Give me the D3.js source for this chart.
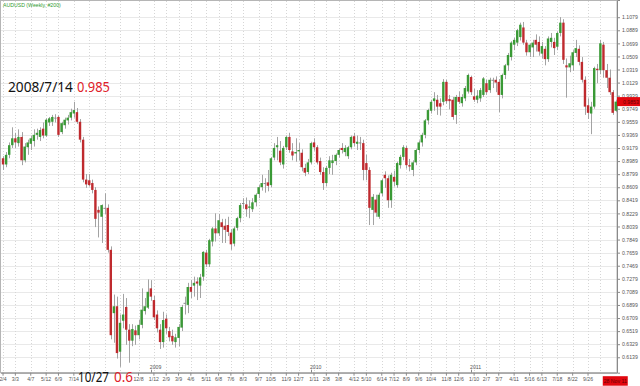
<!DOCTYPE html>
<html>
<head>
<meta charset="utf-8">
<script src="https://d3js.org/d3.v7.min.js"></script>
<style>
body { margin: 0; background: #fff; }
svg { display: block; font-family: "Liberation Sans", Arial, sans-serif; }
</style>
</head>
<body>
<svg id="chart" width="640" height="386"></svg>
<script>
// weekly AUDUSD candles, 2008-02-04 .. 2011-11-28
var opens = [
0.903,0.894,0.908,0.922,0.932,0.925,0.934,0.900,0.919,0.924,
0.928,0.937,0.934,0.946,0.936,0.955,0.956,0.962,0.963,0.941,
0.951,0.958,0.962,0.968,0.970,0.956,0.930,0.872,0.871,0.867,
0.857,0.828,0.818,0.831,0.831,0.770,0.678,0.688,0.622,0.667,
0.687,0.654,0.638,0.653,0.646,0.661,0.681,0.686,0.714,0.697,
0.676,0.654,0.636,0.670,0.652,0.645,0.636,0.642,0.657,0.692,
0.690,0.716,0.718,0.724,0.718,0.731,0.766,0.749,0.782,0.801,
0.794,0.810,0.805,0.806,0.795,0.779,0.802,0.816,0.837,0.836,
0.831,0.829,0.839,0.851,0.861,0.867,0.868,0.864,0.904,0.919,
0.914,0.894,0.919,0.934,0.913,0.910,0.913,0.911,0.889,0.883,
0.897,0.926,0.919,0.899,0.883,0.867,0.889,0.896,0.899,0.908,
0.918,0.912,0.906,0.919,0.935,0.924,0.926,0.925,0.896,0.886,
0.828,0.843,0.818,0.852,0.879,0.874,0.842,0.876,0.864,0.893,
0.905,0.918,0.893,0.886,0.897,0.915,0.926,0.937,0.958,0.972,
0.986,0.988,0.983,0.985,1.014,0.989,0.988,0.966,0.992,0.983,
0.990,1.000,1.021,0.993,0.988,0.990,0.995,1.012,1.002,1.016,
1.017,1.014,0.995,1.024,1.038,1.050,1.068,1.071,1.079,1.093,
1.071,1.057,1.064,1.075,1.072,1.055,1.062,1.047,1.072,1.072,
1.065,1.085,1.100,1.038,1.035,1.038,1.056,1.062,1.043,1.017,
0.980,0.968,0.978,1.033,1.031,1.068,1.031,1.020,0.999,0.972
];
var highs = [
0.906,0.912,0.926,0.948,0.940,0.945,0.941,0.925,0.930,0.936,
0.945,0.946,0.948,0.955,0.961,0.963,0.966,0.967,0.965,0.956,
0.962,0.966,0.975,0.985,0.976,0.960,0.934,0.880,0.880,0.872,
0.861,0.833,0.836,0.852,0.836,0.775,0.705,0.702,0.676,0.706,
0.700,0.662,0.662,0.660,0.668,0.714,0.700,0.727,0.726,0.703,
0.682,0.662,0.680,0.676,0.658,0.654,0.648,0.662,0.690,0.702,
0.722,0.726,0.731,0.730,0.735,0.768,0.770,0.786,0.803,0.823,
0.822,0.815,0.815,0.818,0.800,0.804,0.818,0.838,0.845,0.846,
0.842,0.845,0.852,0.864,0.879,0.874,0.886,0.905,0.925,0.934,
0.928,0.921,0.936,0.940,0.925,0.932,0.925,0.916,0.895,0.902,
0.927,0.932,0.922,0.904,0.890,0.892,0.906,0.908,0.910,0.918,
0.925,0.922,0.921,0.936,0.940,0.936,0.934,0.930,0.908,0.890,
0.851,0.850,0.853,0.873,0.884,0.878,0.882,0.885,0.898,0.908,
0.922,0.921,0.902,0.900,0.917,0.929,0.940,0.960,0.975,0.988,
0.999,0.995,0.990,1.018,1.017,0.995,0.992,0.995,1.000,0.996,
1.008,1.026,1.023,1.004,1.002,1.005,1.021,1.017,1.020,1.020,
1.022,1.018,1.026,1.040,1.056,1.073,1.078,1.091,1.100,1.101,
1.075,1.070,1.075,1.083,1.080,1.072,1.066,1.080,1.085,1.078,
1.087,1.108,1.105,1.048,1.052,1.060,1.075,1.067,1.050,1.022,
0.990,0.985,1.036,1.040,1.075,1.072,1.040,1.032,1.002,0.988
];
var lows = [
0.886,0.890,0.903,0.918,0.918,0.920,0.893,0.897,0.908,0.915,
0.920,0.930,0.928,0.932,0.934,0.950,0.950,0.955,0.934,0.938,
0.946,0.952,0.958,0.962,0.953,0.926,0.868,0.860,0.862,0.852,
0.803,0.788,0.780,0.822,0.766,0.640,0.635,0.612,0.600,0.656,
0.632,0.606,0.630,0.632,0.640,0.656,0.676,0.684,0.696,0.668,
0.650,0.626,0.628,0.648,0.637,0.632,0.628,0.630,0.652,0.676,
0.678,0.700,0.702,0.697,0.700,0.725,0.745,0.745,0.775,0.782,
0.790,0.780,0.780,0.790,0.770,0.775,0.798,0.810,0.830,0.818,
0.816,0.825,0.833,0.845,0.856,0.853,0.855,0.861,0.900,0.900,
0.893,0.888,0.915,0.911,0.900,0.898,0.900,0.884,0.877,0.880,
0.894,0.914,0.894,0.879,0.857,0.862,0.880,0.879,0.893,0.904,
0.910,0.906,0.902,0.916,0.920,0.915,0.915,0.871,0.871,0.806,
0.806,0.818,0.815,0.848,0.860,0.831,0.831,0.862,0.860,0.888,
0.900,0.888,0.884,0.877,0.893,0.910,0.920,0.932,0.952,0.968,
0.972,0.966,0.965,0.980,0.982,0.974,0.959,0.953,0.982,0.978,
0.986,0.997,0.995,0.985,0.983,0.985,0.992,0.995,0.998,1.005,
0.999,0.970,0.990,1.018,1.030,1.045,1.060,1.066,1.074,1.068,
1.052,1.050,1.050,1.058,1.052,1.048,1.038,1.043,1.064,1.053,
1.060,1.080,1.040,0.991,1.028,1.030,1.050,1.038,1.013,0.966,
0.960,0.938,0.975,1.012,1.025,1.020,1.005,0.995,0.966,0.970
];
var closes = [
0.894,0.908,0.922,0.932,0.926,0.934,0.900,0.920,0.926,0.932,
0.937,0.940,0.944,0.936,0.959,0.961,0.963,0.961,0.937,0.954,
0.959,0.962,0.970,0.973,0.956,0.930,0.872,0.865,0.864,0.857,
0.815,0.824,0.835,0.830,0.770,0.646,0.688,0.620,0.664,0.676,
0.654,0.638,0.655,0.646,0.661,0.683,0.688,0.709,0.702,0.672,
0.656,0.636,0.668,0.656,0.643,0.637,0.643,0.658,0.687,0.693,
0.716,0.709,0.722,0.721,0.730,0.767,0.749,0.784,0.801,0.794,
0.813,0.803,0.799,0.796,0.778,0.801,0.816,0.835,0.838,0.829,
0.833,0.839,0.850,0.861,0.867,0.866,0.863,0.903,0.918,0.922,
0.897,0.918,0.934,0.915,0.907,0.912,0.915,0.890,0.882,0.897,
0.925,0.919,0.897,0.883,0.867,0.889,0.900,0.900,0.908,0.915,
0.915,0.918,0.919,0.934,0.925,0.927,0.925,0.886,0.886,0.831,
0.847,0.824,0.850,0.871,0.874,0.842,0.879,0.869,0.896,0.905,
0.919,0.893,0.891,0.897,0.915,0.926,0.937,0.958,0.973,0.985,
0.990,0.978,0.978,1.014,0.986,0.986,0.963,0.992,0.985,0.992,
1.005,1.024,0.999,0.988,0.994,1.002,1.019,0.999,1.017,1.017,
1.013,0.995,1.024,1.038,1.053,1.071,1.075,1.089,1.097,1.071,
1.057,1.068,1.071,1.068,1.058,1.066,1.047,1.077,1.078,1.063,
1.085,1.100,1.046,1.035,1.041,1.057,1.063,1.043,1.017,0.978,
0.969,0.978,1.034,1.031,1.070,1.031,1.020,0.999,0.969,0.9853
];

// right axis tick labels
var yTicks = [1.1079,1.0889,1.0699,1.0509,1.0319,1.0129,0.9939,0.9749,0.9559,0.9369,
	0.9179,0.8989,0.8799,0.8609,0.8419,0.8229,0.8039,0.7849,0.7659,0.7469,
	0.7279,0.7089,0.6899,0.6709,0.6519,0.6329,0.6139];

// bottom axis tick dates (the ones under the low note are hidden in the picture)
var xTickDates = ["2008-02-04","2008-03-03","2008-04-07","2008-05-12","2008-06-09","2008-07-14",
	"2008-12-08",
	"2009-01-12","2009-02-09","2009-03-09","2009-04-06","2009-05-11","2009-06-08",
	"2009-07-06","2009-08-03","2009-09-07","2009-10-05","2009-11-09","2009-12-07",
	"2010-01-11","2010-02-08","2010-03-08","2010-04-12","2010-05-10","2010-06-14",
	"2010-07-12","2010-08-09","2010-09-06","2010-10-04","2010-11-08","2010-12-06",
	"2011-01-10","2011-02-07","2011-03-07","2011-04-11","2011-05-16","2011-06-13",
	"2011-07-18","2011-08-22","2011-09-26"];
var gridDates = ["2008-08-18","2008-09-22","2008-10-27","2011-10-24"];
var yearTicks = ["2009-01-05","2010-01-04","2011-01-03"];

var lastPrice = 0.9853;
var lastDateText = "28 Nov 11";

window.addEventListener("load", function(){

	var svg = d3.select("#chart");
	var plotL = 1.5, plotR = 617.3, plotB = 372.7;
	var parse = d3.utcParse("%Y-%m-%d");

	// one band per weekly candle (Mondays)
	var weeks = d3.utcMonday.range(parse("2008-02-04"), parse("2011-12-01"));
	var x = d3.scaleBand().domain(weeks.map(function(d){ return +d; })).range([plotL, plotR]);
	var y = d3.scaleLinear().domain([0.5915, 1.1329]).range([plotB, 0]);
	var cx = function(d){ return x(+d) + x.bandwidth()/2; };

	var data = weeks.map(function(d,i){
		return {date:d, o:opens[i], h:highs[i], l:lows[i], c:closes[i]};
	});

	// horizontal grid
	svg.append("g").selectAll("line").data(yTicks).enter().append("line")
		.attr("x1", 1).attr("x2", 617)
		.attr("y1", function(d){ return Math.round(y(d))+0.5; })
		.attr("y2", function(d){ return Math.round(y(d))+0.5; })
		.attr("stroke", "#e9e9e9");

	// vertical dotted grid
	var tickDates = xTickDates.map(parse);
	svg.append("g").selectAll("line").data(tickDates.concat(gridDates.map(parse))).enter().append("line")
		.attr("x1", function(d){ return Math.round(cx(d))+0.5; })
		.attr("x2", function(d){ return Math.round(cx(d))+0.5; })
		.attr("y1", 1).attr("y2", plotB)
		.attr("stroke", "#d6d6d6").attr("stroke-dasharray", "1,2");

	// frame
	svg.append("rect").attr("x", 0.5).attr("y", 0.5).attr("width", 616.5).attr("height", plotB-0.5)
		.attr("fill", "none").attr("stroke", "#b5b5b5");

	// candles
	var candle = svg.append("g").selectAll("g").data(data).enter().append("g");
	candle.append("line")	// wick
		.attr("x1", function(d){ return Math.round(cx(d.date))+0.5; })
		.attr("x2", function(d){ return Math.round(cx(d.date))+0.5; })
		.attr("y1", function(d){ return y(d.h); })
		.attr("y2", function(d){ return y(d.l); })
		.attr("stroke", "#a3a3a3");
	candle.append("rect")	// body
		.attr("x", function(d){ return cx(d.date)-1.2; })
		.attr("width", 2.4)
		.attr("y", function(d){ return y(Math.max(d.o, d.c)); })
		.attr("height", function(d){ return Math.max(1, Math.abs(y(d.o)-y(d.c))); })
		.attr("fill", function(d){
			if (Math.abs(d.o-d.c) < 0.0015) return "#8c8c8c";
			return d.c > d.o ? "#3a9a36" : "#bf2a2e";
		});

	// right price axis
	var yAxis = d3.axisRight(y).tickValues(yTicks).tickSize(3).tickPadding(2)
		.tickFormat(d3.format(".4f"));
	var ga = svg.append("g").attr("transform", "translate(617,0)").call(yAxis);
	ga.select(".domain").attr("stroke", "#8a8a8a");
	ga.selectAll(".tick line").attr("stroke", "#8a8a8a");
	ga.selectAll("text").attr("font-size", 5.2).attr("fill", "#555").attr("font-family", "Liberation Sans, Arial");

	// bottom date axis
	var xAxis = d3.axisBottom(x).tickValues(tickDates.map(function(d){ return +d; }))
		.tickSize(3).tickPadding(2)
		.tickFormat(function(d){ return d3.utcFormat("%-m/%-d")(new Date(d)); });
	var gx = svg.append("g").attr("transform", "translate(0," + plotB + ")").call(xAxis);
	gx.select(".domain").attr("stroke", "#8a8a8a").attr("d", "M1,0.5H617");
	gx.selectAll(".tick line").attr("stroke", "#8a8a8a");
	gx.selectAll("text").attr("font-size", 5.2).attr("fill", "#555").attr("font-family", "Liberation Sans, Arial");

	// year marks above the axis
	var years = svg.append("g").selectAll("g").data(yearTicks.map(parse)).enter().append("g");
	years.append("line")
		.attr("x1", function(d){ return Math.round(cx(d))+0.5; })
		.attr("x2", function(d){ return Math.round(cx(d))+0.5; })
		.attr("y1", plotB-3).attr("y2", plotB).attr("stroke", "#8a8a8a");
	years.append("text")
		.attr("x", function(d){ return cx(d)-1; })
		.attr("y", plotB-3.5)
		.attr("font-size", 5.2).attr("fill", "#555")
		.text(function(d){ return d3.utcFormat("%Y")(d); });

	// title
	svg.append("text").attr("x", 3).attr("y", 7).attr("font-size", 5.2).attr("fill", "#2f9a2f")
		.text("AUDUSD (Weekly, #200)");

	// current price box
	var py = y(lastPrice);
	svg.append("rect").attr("x", 617).attr("y", py-4.5).attr("width", 23).attr("height", 9).attr("fill", "#e2070f");
	svg.append("text").attr("x", 623).attr("y", py+2).attr("font-size", 5.2).attr("fill", "#6a0000")
		.text(d3.format(".4f")(lastPrice));

	// current date box
	var lx = cx(weeks[weeks.length-1]);
	svg.append("rect").attr("x", lx-13).attr("y", plotB+3.5).attr("width", 25).attr("height", 9.5).attr("fill", "#e2070f");
	svg.append("text").attr("x", lx-0.5).attr("y", plotB+10.5).attr("text-anchor", "middle")
		.attr("font-size", 5.2).attr("fill", "#6a0000").text(lastDateText);

	// notes for the high and the low: text squeezed horizontally to the width in the picture
	var squeezed = function(xp, yp, t, size, w, color){
		var g = svg.append("g");
		var txt = g.append("text").attr("font-size", size)
			.attr("font-family", "Noto Sans, Open Sans, sans-serif").attr("fill", color).text(t);
		var sx = w / txt.node().getComputedTextLength();
		g.attr("transform", "translate(" + xp + "," + yp + ") scale(" + sx + ",1)");
	};
	squeezed(8, 92, d3.utcFormat("%Y/%-m/%-d")(weeks[23]), 14, 65, "#111");
	squeezed(77, 92, "0.985", 14, 33, "#e0202a");
	squeezed(78, 382, d3.utcFormat("%-m/%-d")(weeks[38]), 15, 31, "#111");
	squeezed(114, 382, "0.6", 15, 19, "#e0202a");

});
</script>
</body>
</html>
